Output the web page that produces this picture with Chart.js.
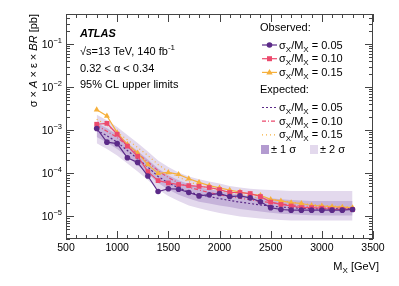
<!DOCTYPE html>
<html>
<head>
<meta charset="utf-8">
<script src="https://cdn.jsdelivr.net/npm/chart.js@4"></script>
<style>
  body { margin: 0; background: #fff; }
</style>
</head>
<body>
<canvas id="chart" width="399" height="286"></canvas>
<script>
// Massenpunkte (GeV)
const massen = [800, 900, 1000, 1100, 1200, 1300, 1400, 1500, 1600, 1700, 1800, 1900, 2000,
                2100, 2200, 2300, 2400, 2500, 2600, 2700, 2800, 2900, 3000, 3100, 3200, 3300];

// beobachtete Limits [pb]
const obs05 = [1.1e-3, 5.3e-4, 4.9e-4, 2.3e-4, 1.8e-4, 8.7e-5, 3.8e-5, 4.4e-5, 4.3e-5, 3.6e-5, 3.0e-5, 3.2e-5, 3.4e-5,
               2.9e-5, 3.0e-5, 2.7e-5, 2.2e-5, 1.6e-5, 1.45e-5, 1.4e-5, 1.4e-5, 1.4e-5, 1.4e-5, 1.4e-5, 1.4e-5, 1.45e-5];
const obs10 = [1.38e-3, 1.45e-3, 8.1e-4, 4.3e-4, 2.5e-4, 1.1e-4, 6.8e-5, 6.0e-5, 5.5e-5, 5.2e-5, 5.0e-5, 4.7e-5, 4.2e-5,
               3.6e-5, 3.6e-5, 3.4e-5, 2.9e-5, 2.15e-5, 1.9e-5, 1.75e-5, 1.6e-5, 1.6e-5, 1.55e-5, 1.45e-5, 1.45e-5, 1.45e-5];
const obs15 = [3.0e-3, 2.15e-3, 8.8e-4, 4.7e-4, 3.0e-4, 1.6e-4, 1.0e-4, 1.05e-4, 9.5e-5, 7.5e-5, 6.2e-5, 5.2e-5, 4.6e-5,
               4.1e-5, 3.7e-5, 3.3e-5, 3.1e-5, 2.5e-5, 2.3e-5, 2.1e-5, 2.0e-5, 1.8e-5, 1.75e-5, 1.7e-5, 1.65e-5, 1.6e-5];

// erwartete Limits [pb]
const exp05 = [1.0e-3, 7.5e-4, 5.3e-4, 3.4e-4, 2.2e-4, 1.4e-4, 8.5e-5, 6.0e-5, 4.6e-5, 3.7e-5, 3.2e-5, 2.9e-5, 2.6e-5,
               2.35e-5, 2.15e-5, 2.0e-5, 1.85e-5, 1.75e-5, 1.65e-5, 1.6e-5, 1.55e-5, 1.52e-5, 1.5e-5, 1.5e-5, 1.5e-5, 1.5e-5];
const exp10 = [1.3e-3, 9.5e-4, 6.8e-4, 4.4e-4, 2.9e-4, 1.85e-4, 1.15e-4, 8.0e-5, 6.0e-5, 4.8e-5, 4.1e-5, 3.6e-5, 3.2e-5,
               2.9e-5, 2.65e-5, 2.45e-5, 2.25e-5, 2.1e-5, 1.95e-5, 1.85e-5, 1.75e-5, 1.7e-5, 1.65e-5, 1.6e-5, 1.58e-5, 1.55e-5];
const exp15 = [1.8e-3, 1.3e-3, 9.0e-4, 6.0e-4, 4.0e-4, 2.6e-4, 1.6e-4, 1.1e-4, 8.2e-5, 6.4e-5, 5.3e-5, 4.6e-5, 4.0e-5,
               3.6e-5, 3.25e-5, 2.95e-5, 2.7e-5, 2.5e-5, 2.3e-5, 2.15e-5, 2.0e-5, 1.9e-5, 1.82e-5, 1.75e-5, 1.7e-5, 1.65e-5];

// Bänder um die erwartete Kurve
const band2lo = [5.0e-4, 3.7e-4, 2.6e-4, 1.7e-4, 1.1e-4, 7.0e-5, 4.2e-5, 3.0e-5, 2.3e-5, 1.8e-5, 1.55e-5, 1.35e-5, 1.2e-5,
                 1.1e-5, 1.0e-5, 9.5e-6, 9.0e-6, 8.6e-6, 8.3e-6, 8.1e-6, 8.1e-6, 8.1e-6, 8.1e-6, 8.1e-6, 8.1e-6, 8.1e-6];
const band1lo = [7.0e-4, 5.2e-4, 3.7e-4, 2.4e-4, 1.55e-4, 9.8e-5, 6.0e-5, 4.2e-5, 3.2e-5, 2.6e-5, 2.2e-5, 2.0e-5, 1.8e-5,
                 1.65e-5, 1.5e-5, 1.4e-5, 1.3e-5, 1.22e-5, 1.16e-5, 1.12e-5, 1.09e-5, 1.07e-5, 1.05e-5, 1.05e-5, 1.05e-5, 1.05e-5];
const band1hi = [1.5e-3, 1.12e-3, 8.0e-4, 5.1e-4, 3.3e-4, 2.1e-4, 1.3e-4, 9.0e-5, 6.9e-5, 5.6e-5, 4.8e-5, 4.3e-5, 3.9e-5,
                 3.5e-5, 3.2e-5, 3.0e-5, 2.8e-5, 2.65e-5, 2.5e-5, 2.4e-5, 2.35e-5, 2.3e-5, 2.3e-5, 2.3e-5, 2.3e-5, 2.3e-5];
const band2hi = [2.3e-3, 1.7e-3, 1.2e-3, 7.8e-4, 5.1e-4, 3.2e-4, 2.0e-4, 1.4e-4, 1.05e-4, 8.5e-5, 7.3e-5, 6.5e-5, 5.8e-5,
                 5.1e-5, 4.7e-5, 4.4e-5, 4.2e-5, 4.1e-5, 4.0e-5, 3.9e-5, 3.9e-5, 3.9e-5, 3.9e-5, 3.9e-5, 3.9e-5, 3.9e-5];

const xTickLabels = ["500", "1000", "1500", "2000", "2500", "3000", "3500"];
const yDekaden = [-5, -4, -3, -2, -1];

const LILA = "#5b2a88";
const ROSA = "#ec4a6d";
const GELB = "#f6b03c";
const BAND1 = "#c6b3da";
const BAND2 = "#e3d9ed";
const SCHRIFT = "'Liberation Sans', Arial, sans-serif";

function punkte(werte) {
    return massen.map((m, i) => ({ x: m, y: werte[i] }));
}

function linie(werte, farbe, stil, dash, order) {
    return {
        data: punkte(werte),
        borderColor: farbe,
        backgroundColor: farbe,
        borderWidth: 1.2,
        borderDash: dash || [],
        pointStyle: stil,
        pointRadius: stil ? (stil === "circle" ? 2.8 : 3.4) : 0,
        pointBorderWidth: 0,
        fill: false,
        tension: 0,
        order: order,
    };
}

// Text mit Hoch-/Tiefstellungen: teile = [text, groesse, stil, dy]
function reichText(ctx, x, y, teile, ausrichtung) {
    let breite = 0;
    teile.forEach((t) => {
        ctx.font = (t[2] || "") + " " + t[1] + "px " + SCHRIFT;
        breite += ctx.measureText(t[0]).width;
    });
    let px = x;
    if (ausrichtung === "right") px = x - breite;
    if (ausrichtung === "center") px = x - breite / 2;
    ctx.textAlign = "left";
    teile.forEach((t) => {
        ctx.font = (t[2] || "") + " " + t[1] + "px " + SCHRIFT;
        ctx.fillText(t[0], px, y + (t[3] || 0));
        px += ctx.measureText(t[0]).width;
    });
}

function sigmaText(wert) {
    return [["σ", 11], ["X", 8, "", 3], ["/M", 11], ["X", 8, "", 3], [" = " + wert, 11]];
}

function marker(ctx, stil, x, y, farbe) {
    ctx.fillStyle = farbe;
    ctx.beginPath();
    if (stil === "circle") {
        ctx.arc(x, y, 2.8, 0, Math.PI * 2);
    } else if (stil === "rect") {
        ctx.rect(x - 2.5, y - 2.5, 5, 5);
    } else {
        ctx.moveTo(x, y - 3.4);
        ctx.lineTo(x + 3.2, y + 2.2);
        ctx.lineTo(x - 3.2, y + 2.2);
        ctx.closePath();
    }
    ctx.fill();
}

const deko = {
    id: "deko",
    afterDraw(chart) {
        const ctx = chart.ctx;
        const a = chart.chartArea;
        const sx = chart.scales.x;
        const sy = chart.scales.y;
        ctx.save();

        // Rahmen und Ticks
        ctx.strokeStyle = "#444";
        ctx.lineWidth = 1;
        ctx.strokeRect(a.left + 0.5, a.top + 0.5, a.right - a.left - 1, a.bottom - a.top - 1);
        ctx.beginPath();
        for (let m = 500; m <= 3500; m += 100) {
            const px = Math.round(sx.getPixelForValue(m)) + 0.5;
            const len = m % 500 === 0 ? 8 : 4;
            ctx.moveTo(px, a.bottom); ctx.lineTo(px, a.bottom - len);
            ctx.moveTo(px, a.top); ctx.lineTo(px, a.top + len);
        }
        for (let d = -6; d <= -1; d++) {
            for (let k = 1; k <= 9; k++) {
                const v = k * Math.pow(10, d);
                if (v < sy.min || v > sy.max) continue;
                const py = Math.round(sy.getPixelForValue(v)) + 0.5;
                const len = k === 1 ? 8 : 4;
                ctx.moveTo(a.left, py); ctx.lineTo(a.left + len, py);
                ctx.moveTo(a.right, py); ctx.lineTo(a.right - len, py);
            }
        }
        ctx.stroke();

        // Achsenbeschriftung
        ctx.fillStyle = "#000";
        ctx.textBaseline = "alphabetic";
        xTickLabels.forEach((t) => {
            const px = sx.getPixelForValue(parseFloat(t));
            reichText(ctx, px, 251, [[t, 10.5]], "center");
        });
        yDekaden.forEach((d) => {
            const py = sy.getPixelForValue(Math.pow(10, d));
            reichText(ctx, 62, py + 4, [["10", 10.5], ["−" + (-d), 7.5, "", -5]], "right");
        });
        reichText(ctx, 379, 270, [["M", 11], ["X", 8, "", 3], [" [GeV]", 11]], "right");

        ctx.save();
        ctx.translate(37, 14);
        ctx.rotate(-Math.PI / 2);
        reichText(ctx, 0, 0, [["σ × ", 11], ["A", 11, "italic"], [" × ε × ", 11], ["BR", 11, "italic"], [" [pb]", 11]], "right");
        ctx.restore();

        // ATLAS Beschriftung
        reichText(ctx, 80, 37, [["ATLAS", 11, "italic bold"]]);
        reichText(ctx, 80, 55, [["√s=13 TeV, 140 fb", 11], ["-1", 8, "", -5]]);
        reichText(ctx, 80, 72, [["0.32 < α < 0.34", 11]]);
        reichText(ctx, 80, 88, [["95% CL upper limits", 11]]);

        // Legende
        reichText(ctx, 260, 31, [["Observed:", 11]]);
        const beob = [[LILA, "circle", "0.05"], [ROSA, "rect", "0.10"], [GELB, "triangle", "0.15"]];
        beob.forEach((e, i) => {
            const y = 45 + i * 13.7;
            ctx.strokeStyle = e[0];
            ctx.lineWidth = 1.2;
            ctx.setLineDash([]);
            ctx.beginPath(); ctx.moveTo(262, y); ctx.lineTo(277, y); ctx.stroke();
            marker(ctx, e[1], 269.5, y, e[0]);
            ctx.fillStyle = "#000";
            reichText(ctx, 279, y + 3.5, sigmaText(e[2]));
        });
        reichText(ctx, 260, 93, [["Expected:", 11]]);
        const erw = [[LILA, [2, 2], "0.05"], [ROSA, [4, 2, 1, 2], "0.10"], [GELB, [1, 3], "0.15"]];
        erw.forEach((e, i) => {
            const y = 107.5 + i * 13.7;
            ctx.strokeStyle = e[0];
            ctx.lineWidth = 1.2;
            ctx.setLineDash(e[1]);
            ctx.beginPath(); ctx.moveTo(262, y); ctx.lineTo(277, y); ctx.stroke();
            ctx.fillStyle = "#000";
            reichText(ctx, 279, y + 3.5, sigmaText(e[2]));
        });
        ctx.setLineDash([]);
        ctx.fillStyle = "#b39bd0";
        ctx.fillRect(261, 145, 8, 9);
        ctx.fillStyle = BAND2;
        ctx.fillRect(310, 145, 8, 9);
        ctx.fillStyle = "#000";
        reichText(ctx, 271, 153, [["± 1 σ", 11]]);
        reichText(ctx, 320, 153, [["± 2 σ", 11]]);

        ctx.restore();
    },
};

const ctx = document.getElementById("chart").getContext("2d");

const myChart = new Chart(ctx, {
    type: "line",
    data: {
        datasets: [
            { data: punkte(band2lo), borderWidth: 0, pointRadius: 0, fill: false, order: 20 },
            { data: punkte(band2hi), borderWidth: 0, pointRadius: 0, fill: 0, backgroundColor: BAND2, order: 19 },
            { data: punkte(band1lo), borderWidth: 0, pointRadius: 0, fill: false, order: 18 },
            { data: punkte(band1hi), borderWidth: 0, pointRadius: 0, fill: 2, backgroundColor: BAND1, order: 17 },
            linie(exp15, GELB, false, [1, 3], 8),
            linie(exp10, ROSA, false, [4, 2, 1, 2], 7),
            linie(exp05, LILA, false, [2, 2], 6),
            linie(obs15, GELB, "triangle", null, 3),
            linie(obs10, ROSA, "rect", null, 2),
            linie(obs05, LILA, "circle", null, 1),
        ],
    },
    options: {
        responsive: false,
        animation: false,
        layout: { padding: { left: 66, right: 26, top: 14, bottom: 47 } },
        plugins: { legend: { display: false }, tooltip: { enabled: false } },
        scales: {
            x: { type: "linear", display: false, min: 500, max: 3500 },
            y: { type: "logarithmic", display: false, min: 3e-6, max: 0.5 },
        },
    },
    plugins: [deko],
});
</script>
</body>
</html>
